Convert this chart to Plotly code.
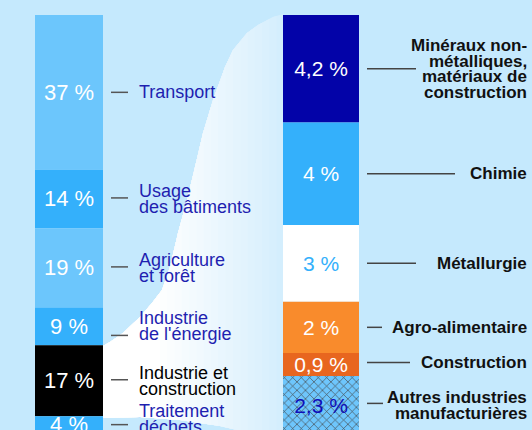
import plotly.graph_objects as go
import numpy as np

# ---------------- data ----------------
left_labels = ["Transport", "Usage<br>des bâtiments", "Agriculture<br>et forêt",
               "Industrie<br>de l'énergie", "Industrie et<br>construction", "Traitement<br>déchets"]
left_values = [37, 14, 19, 9, 17, 4]

right_labels = ["Minéraux non-<br>métalliques,<br>matériaux de<br>construction", "Chimie",
                "Métallurgie", "Agro-alimentaire", "Construction",
                "Autres industries<br>manufacturières"]
right_values = [4.2, 4, 3, 2, 0.9, 2.3]

# ---------------- style ----------------
W, H = 532, 430
BG = "#c5e9fd"
FONT = "Liberation Sans, Arial, Helvetica, sans-serif"
TOP_PX = 15
L_PX_PER = 4.18
R_PX_PER = 25.6

left_colors = ["#6cc6fc", "#34b0fb", "#6cc6fc", "#34b0fb", "#000000", "#34b0fb"]
left_txt_colors = ["#ffffff"] * 6
left_lab_colors = ["#1f1fb0", "#1f1fb0", "#1f1fb0", "#1f1fb0", "#000000", "#1f1fb0"]
left_lab_shift = [0, 0, 0, 0, 0, 6]      # px up
left_dash_shift = [0, 1, 1, -9, 1, -0]   # px up

# hatched point: marker colour is the hatch line colour (overlay pattern mode)
right_colors = ["#0303a8", "#34b0fb", "#ffffff", "#f98b2c", "#e8661f", "#6ec6fc"]
right_txt_colors = ["#ffffff", "#ffffff", "#34b0fb", "#ffffff", "#ffffff", "#0f0fb8"]
right_patterns = ["", "", "", "", "", "x"]
right_dash_end = [416, 455, 416, 382, 410, 383]
right_dash_shift = [0, 0, 0, 0, 2, 2]
right_lab_shift = [0, 0, 0, 0, 2, 0]


def fmt(v):
    return f"{v:g}".replace(".", ",") + " %"


def bases(vals):
    c = np.cumsum(vals)
    return list(c - np.array(vals)), list(c - np.array(vals) / 2)


l_base, l_mid = bases(left_values)
r_base, r_mid = bases(right_values)

fig = go.Figure()

fig.add_trace(go.Bar(
    x=[69] * len(left_values), y=left_values, base=l_base, width=68,
    marker=dict(color=left_colors, line=dict(width=0)),
    text=[fmt(v) for v in left_values], textposition="inside",
    insidetextanchor="middle", textangle=0, constraintext="none",
    textfont=dict(family=FONT, size=22, color=left_txt_colors),
    hoverinfo="skip", yaxis="y", showlegend=False,
))
fig.add_trace(go.Bar(
    x=[321] * len(right_values), y=right_values, base=r_base, width=76,
    marker=dict(color=right_colors, line=dict(width=0),
                pattern=dict(shape=right_patterns, fillmode="overlay", bgcolor="#e6f6ff",
                             fgopacity=1, size=6, solidity=0.2)),
    text=[fmt(v) for v in right_values], textposition="inside",
    insidetextanchor="middle", textangle=0, constraintext="none",
    textfont=dict(family=FONT, size=21, color=right_txt_colors),
    hoverinfo="skip", yaxis="y2", showlegend=False,
))

annotations = []
shapes = []

# ---- funnel decoration (gradient bands) ----
top_curve = [(283, 14), (273, 17), (258, 25), (247, 33), (233, 50), (225, 67), (213, 100),
             (203, 133), (195, 167), (187, 200), (178, 233), (170, 267), (162, 290),
             (152, 303), (140, 317), (123, 333), (110, 342), (103, 346)]
bottom_curve = [(103, 418), (140, 417), (180, 420), (220, 426), (250, 433), (283, 442)]
poly = top_curve + bottom_curve


def clip_x(points, t):
    out = []
    n = len(points)
    for i in range(n):
        p, q = points[i], points[(i + 1) % n]
        pin, qin = p[0] <= t, q[0] <= t
        if pin:
            out.append(p)
        if pin != qin:
            r = (t - p[0]) / (q[0] - p[0])
            out.append((t, p[1] + r * (q[1] - p[1])))
    return out


def to_path(points):
    s = ""
    for i, (x, y) in enumerate(points):
        s += ("M" if i == 0 else "L") + f"{x:.2f},{1 - y / H:.5f} "
    return s + "Z"


c_dark = np.array([0xd4, 0xee, 0xfd])
c_white = np.array([255, 255, 255])
n_band = 18
ts = np.linspace(284, 160, n_band)
for k, t in enumerate(ts):
    f = k / (n_band - 1)
    c = c_dark + (c_white - c_dark) * f ** 0.9
    pts = clip_x(poly, t)
    if len(pts) < 3:
        continue
    shapes.append(dict(type="path", path=to_path(pts), xref="x", yref="paper",
                       fillcolor=f"rgb({int(c[0])},{int(c[1])},{int(c[2])})",
                       line=dict(width=0), layer="below"))

# ---- left labels ----
LSP = 16
for i, lab in enumerate(left_labels):
    lines = lab.split("<br>")
    n = len(lines)
    for j, ln in enumerate(lines):
        off = (j - (n - 1) / 2) * LSP
        annotations.append(dict(x=137, y=l_mid[i], xref="x", yref="y", text=ln,
                                showarrow=False, xanchor="left", yanchor="middle",
                                yshift=-off + left_lab_shift[i],
                                font=dict(family=FONT, size=18, color=left_lab_colors[i])))
    shapes.append(dict(type="line", xref="x", yref="y", ysizemode="pixel",
                       yanchor=l_mid[i], x0=111, x1=128,
                       y0=left_dash_shift[i], y1=left_dash_shift[i],
                       line=dict(color="#555555", width=1.5)))

# ---- right labels ----
RSP = 15.5
for i, lab in enumerate(right_labels):
    lines = lab.split("<br>")
    n = len(lines)
    for j, ln in enumerate(lines):
        off = (j - (n - 1) / 2) * RSP
        annotations.append(dict(x=529, y=r_mid[i], xref="x", yref="y2", text=ln,
                                showarrow=False, xanchor="right", yanchor="middle",
                                yshift=-off + right_lab_shift[i],
                                font=dict(family=FONT, size=17, color="#111111", weight="bold")))
    shapes.append(dict(type="line", xref="x", yref="y2", ysizemode="pixel",
                       yanchor=r_mid[i], x0=367, x1=right_dash_end[i],
                       y0=right_dash_shift[i], y1=right_dash_shift[i],
                       line=dict(color="#444444", width=1.5)))

fig.update_layout(
    width=W, height=H, margin=dict(l=0, r=0, t=0, b=0),
    paper_bgcolor=BG, plot_bgcolor=BG, barmode="overlay",
    xaxis=dict(range=[0, W], visible=False, fixedrange=True),
    yaxis=dict(range=[(H - TOP_PX) / L_PX_PER, -TOP_PX / L_PX_PER], visible=False, fixedrange=True),
    yaxis2=dict(range=[(H - TOP_PX) / R_PX_PER, -TOP_PX / R_PX_PER], visible=False,
                overlaying="y", fixedrange=True),
    annotations=annotations, shapes=shapes,
    font=dict(family=FONT),
)

fig.write_html("out.html", config={"displayModeBar": False},
               post_script="document.body.style.margin='0';document.body.style.padding='0';"
                           "document.body.style.overflow='hidden';"
                           "document.documentElement.style.overflow='hidden';")
